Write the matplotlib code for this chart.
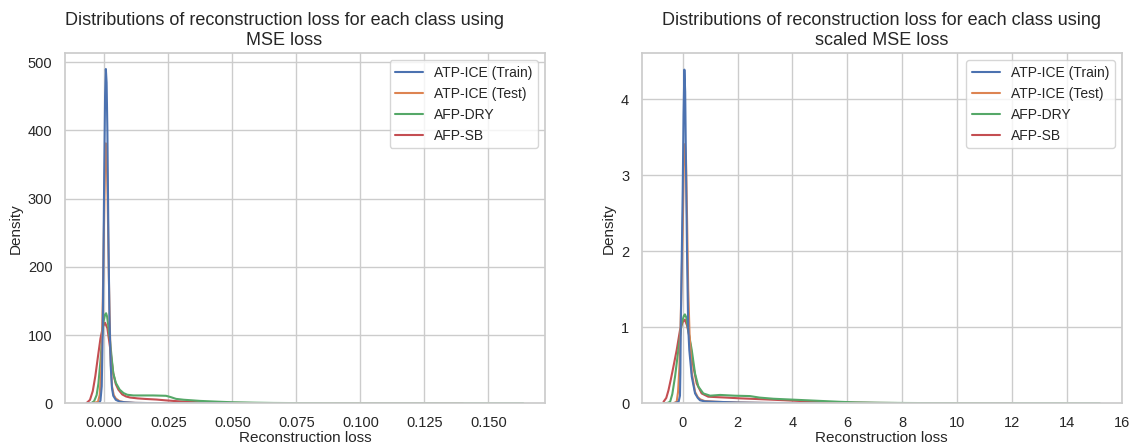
import matplotlib
matplotlib.use("Agg")
import matplotlib.pyplot as plt
import seaborn as sns

# labels / titles
LABELS = ["ATP-ICE (Train)", "ATP-ICE (Test)", "AFP-DRY", "AFP-SB"]
TITLES = ["Distributions of reconstruction loss for each class using\nMSE loss",
          "Distributions of reconstruction loss for each class using\nscaled MSE loss"]

# ---- left panel: MSE loss ----
mse_train_x = [-0.0069, -0.003, -0.002, -0.0015, -0.001, -0.0006, -0.0003, 0.0, 0.0003, 0.0006,
               0.0009, 0.0012, 0.0016, 0.002, 0.0025, 0.003, 0.0035, 0.0045, 0.006, 0.008,
               0.012, 0.02, 0.03, 0.05]
mse_train_y = [0, 0, 0.5, 4, 25, 110, 230, 350, 450, 490,
               470, 400, 245, 130, 55, 22, 11, 5, 2.5, 1.5,
               0.6, 0.2, 0.05, 0]

mse_test_x = [-0.005, -0.0025, -0.0018, -0.0012, -0.0006, 0.0, 0.0003, 0.0006, 0.0009, 0.0013,
              0.0018, 0.0024, 0.003, 0.0037, 0.0045, 0.006, 0.008, 0.012, 0.02, 0.04]
mse_test_y = [0, 2, 12, 50, 150, 290, 350, 381, 370, 300,
              180, 70, 25, 12, 7, 3, 1.5, 0.6, 0.2, 0]

mse_dry_x = [-0.0069, -0.005, -0.004, -0.003, -0.0023, -0.0015, -0.001, -0.0003, 0.0003, 0.0007,
             0.0011, 0.0016, 0.0022, 0.003, 0.0035, 0.0045, 0.006, 0.0075, 0.009, 0.0114,
             0.015, 0.019, 0.0241, 0.026, 0.028, 0.031, 0.0374, 0.044, 0.05, 0.058,
             0.066, 0.075, 0.09, 0.11, 0.13, 0.1636]
mse_dry_y = [0, 0.5, 3, 12, 29, 62, 90, 120, 130, 132,
             127, 112, 93, 62, 44, 30, 20, 15, 12.5, 11.5,
             11.5, 11.5, 11, 9, 6.5, 5.2, 3.5, 2.4, 1.5, 0.9,
             0.5, 0.3, 0.15, 0.07, 0.03, 0]

mse_sb_x = [-0.0069, -0.0056, -0.0045, -0.0035, -0.0025, -0.0015, -0.0005, 0.0003, 0.0012, 0.0022,
            0.0035, 0.0045, 0.0055, 0.007, 0.0085, 0.01, 0.013, 0.016, 0.0204, 0.024,
            0.028, 0.032, 0.037, 0.045, 0.05, 0.06, 0.075, 0.09, 0.11, 0.14]
mse_sb_y = [0.5, 5, 18, 40, 68, 95, 113, 118, 110, 83,
            44, 28, 20, 13, 10, 8.5, 7.2, 6.4, 5.5, 4.3,
            3.2, 2.3, 1.5, 0.9, 0.6, 0.35, 0.18, 0.1, 0.04, 0]

# ---- right panel: scaled MSE loss ----
smse_train_x = [-0.3, -0.15, -0.1, -0.085, -0.07, -0.04, 0.0, 0.03, 0.06, 0.09,
                0.12, 0.16, 0.2, 0.24, 0.33, 0.45, 0.55, 0.63, 0.8, 1.2,
                2.0, 3.0, 5.0]
smse_train_y = [0, 0.02, 0.1, 0.4, 1.0, 1.8, 2.8, 3.8, 4.39, 4.1,
                3.1, 1.9, 1.0, 0.7, 0.35, 0.13, 0.07, 0.04, 0.025, 0.02,
                0.01, 0.005, 0]

smse_test_x = [-0.35, -0.22, -0.17, -0.12, -0.06, 0.0, 0.04, 0.08, 0.12, 0.16,
               0.2, 0.25, 0.33, 0.45, 0.55, 0.65, 0.8, 1.2, 2.0, 3.0, 5.0]
smse_test_y = [0, 0.02, 0.15, 0.48, 1.3, 2.3, 3.1, 3.41, 3.2, 2.4,
               1.5, 0.9, 0.4, 0.15, 0.08, 0.05, 0.03, 0.02, 0.01, 0.005, 0]

smse_dry_x = [-0.7, -0.55, -0.46, -0.38, -0.28, -0.16, -0.04, 0.04, 0.08, 0.13,
              0.2, 0.27, 0.33, 0.45, 0.57, 0.75, 1.0, 1.36, 1.9, 2.45,
              2.8, 3.3, 3.9, 4.5, 5.1, 5.7, 6.3, 7.2, 8.1, 9.5,
              11.5, 13.5, 15.2]
smse_dry_y = [0, 0.005, 0.02, 0.12, 0.35, 0.7, 1.05, 1.15, 1.17, 1.13,
              0.97, 0.82, 0.7, 0.39, 0.22, 0.13, 0.1, 0.11, 0.1, 0.095,
              0.075, 0.06, 0.05, 0.04, 0.03, 0.02, 0.012, 0.007, 0.004, 0.002,
              0.001, 0.0005, 0]

smse_sb_x = [-0.7, -0.6, -0.52, -0.43, -0.34, -0.22, -0.1, 0.0, 0.08, 0.16,
             0.22, 0.27, 0.33, 0.39, 0.51, 0.69, 0.93, 1.3, 1.6, 2.1,
             2.45, 3.1, 3.7, 4.3, 4.9, 5.4, 6.0, 7.0, 8.5, 10.0, 12.0]
smse_sb_y = [0.02, 0.07, 0.17, 0.32, 0.48, 0.7, 0.96, 1.07, 1.1, 1.02,
             0.92, 0.79, 0.63, 0.48, 0.26, 0.13, 0.087, 0.08, 0.075, 0.065,
             0.06, 0.05, 0.04, 0.03, 0.02, 0.015, 0.01, 0.005, 0.002, 0.001, 0]

mse_xticks = [0.0, 0.025, 0.05, 0.075, 0.1, 0.125, 0.15]
smse_xticks = [0, 2, 4, 6, 8, 10, 12, 14, 16]

sns.set_theme(style="whitegrid")
plt.rcParams['font.family'] = ['Liberation Sans', 'DejaVu Sans']
COLORS = sns.color_palette("deep")[:4]

fig = plt.figure(figsize=(11.34, 4.47), dpi=100)
ax1 = fig.add_axes([65 / 1134, 43.7 / 447, 480 / 1134, 350 / 447])
ax2 = fig.add_axes([641.7 / 1134, 43.7 / 447, 480 / 1134, 350 / 447])

panels = [
    (ax1, [(mse_train_x, mse_train_y), (mse_test_x, mse_test_y), (mse_dry_x, mse_dry_y), (mse_sb_x, mse_sb_y)]),
    (ax2, [(smse_train_x, smse_train_y), (smse_test_x, smse_test_y), (smse_dry_x, smse_dry_y), (smse_sb_x, smse_sb_y)]),
]

for ax, curves in panels:
    # seaborn draws hue levels in reverse, so the first class ends up on top
    for i in reversed(range(4)):
        x, y = curves[i]
        ax.plot(x, y, color=COLORS[i], lw=1.5, label=LABELS[i])
    handles, labels = ax.get_legend_handles_labels()
    ax.legend(handles[::-1], labels[::-1], loc="upper right", fontsize=10)
    ax.set_xlabel("Reconstruction loss", fontsize=11, labelpad=1)
    ax.set_ylabel("Density", fontsize=11)
    ax.tick_params(labelsize=10.5, pad=3)

ax1.set_xlim(-0.01535, 0.1721)
ax1.set_ylim(0, 513)
ax1.set_xticks(mse_xticks)
ax1.set_xticklabels([f"{t:.3f}" for t in mse_xticks])
ax1.set_title(TITLES[0], fontsize=13, x=0.457)

ax2.set_xlim(-1.495, 16.0)
ax2.set_ylim(0, 4.605)
ax2.set_xticks(smse_xticks)
ax2.set_title(TITLES[1], fontsize=13)

fig.savefig("out.png", dpi=100)
